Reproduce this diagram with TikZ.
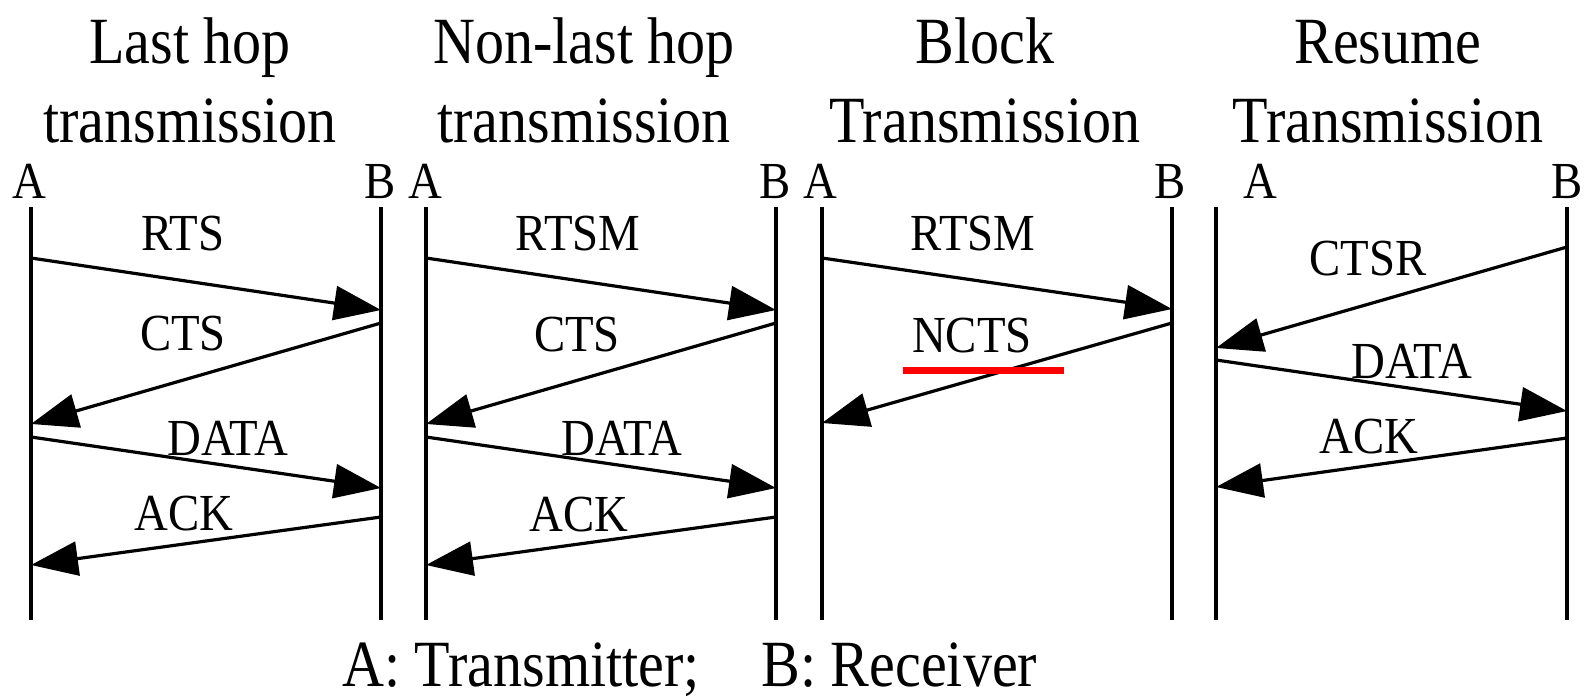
\documentclass[tikz,border=0pt]{standalone}
\usepackage{fontspec}
\setmainfont{Liberation Serif}
\usetikzlibrary{arrows.meta}
% narrow setting of the lettering
\newcommand{\nar}[1]{\scalebox{0.88}[1]{#1}}
\newcommand{\narl}[1]{\scalebox{0.9}[1]{#1}}
\tikzset{
  lifeline/.style={line width=3.2pt},
  msg/.style={line width=3.2pt, -{Triangle[length=47pt,width=34pt]}},
  lbl/.style={inner sep=0pt, anchor=base, font=\fontsize{52}{60}\selectfont},
  ttl/.style={inner sep=0pt, anchor=base, font=\fontsize{66}{78}\selectfont},
  mark red/.style={draw=red, line width=7pt},
}
\begin{document}
\begin{tikzpicture}[x=1pt,y=-1pt]
\useasboundingbox (0,0) rectangle (1590,699);

% panel titles
\node[ttl] (t1a) at (190,63)  {\nar{Last hop}};
\node[ttl] (t1b) at (190,142) {\nar{transmission}};
\node[ttl] (t2a) at (584,63)  {\nar{Non-last hop}};
\node[ttl] (t2b) at (584,142) {\nar{transmission}};
\node[ttl] (t3a) at (985,63)  {\nar{Block}};
\node[ttl] (t3b) at (985,142) {\nar{Transmission}};
\node[ttl] (t4a) at (1388,63)  {\nar{Resume}};
\node[ttl] (t4b) at (1388,142) {\nar{Transmission}};

% endpoint letters
\node[lbl] (a1) at (29,198)   {\narl{A}};
\node[lbl] (b1) at (380,198)  {\narl{B}};
\node[lbl] (a2) at (425,198)  {\narl{A}};
\node[lbl] (b2) at (775,198)  {\narl{B}};
\node[lbl] (a3) at (820,198)  {\narl{A}};
\node[lbl] (b3) at (1170,198) {\narl{B}};
\node[lbl] (a4) at (1260,198) {\narl{A}};
\node[lbl] (b4) at (1567,198) {\narl{B}};

% lifelines
\foreach \i/\xa/\xb in {1/31/381, 2/426/776, 3/822/1172, 4/1216/1567}{
  \coordinate (A\i top) at (\xa,207);
  \coordinate (A\i bot) at (\xa,620);
  \coordinate (B\i top) at (\xb,207);
  \coordinate (B\i bot) at (\xb,620);
  \draw[lifeline] (A\i top) -- (A\i bot);
  \draw[lifeline] (B\i top) -- (B\i bot);
}

% message end points on the lifelines
\foreach \i/\xa/\xb in {1/31/381, 2/426/776}{
  \coordinate (p\i m1s) at (\xa,258); \coordinate (p\i m1e) at (\xb,310);
  \coordinate (p\i m2s) at (\xb,323); \coordinate (p\i m2e) at (\xa,424);
  \coordinate (p\i m3s) at (\xa,437); \coordinate (p\i m3e) at (\xb,488);
  \coordinate (p\i m4s) at (\xb,517); \coordinate (p\i m4e) at (\xa,565);
}
\coordinate (p3m1s) at (822,258);  \coordinate (p3m1e) at (1172,309);
\coordinate (p3m2s) at (1172,323); \coordinate (p3m2e) at (822,423);
\coordinate (p4m1s) at (1567,247); \coordinate (p4m1e) at (1216,348);
\coordinate (p4m2s) at (1216,360); \coordinate (p4m2e) at (1567,411);
\coordinate (p4m3s) at (1567,438); \coordinate (p4m3e) at (1216,487);

% last hop transmission
\draw[msg] (p1m1s) -- (p1m1e);
\draw[msg] (p1m2s) -- (p1m2e);
\draw[msg] (p1m3s) -- (p1m3e);
\draw[msg] (p1m4s) -- (p1m4e);
\node[lbl] (rts1)  at (183,250) {\narl{RTS}};
\node[lbl] (cts1)  at (183,350) {\narl{CTS}};
\node[lbl] (data1) at (228,455) {\narl{DATA}};
\node[lbl] (ack1)  at (184,530) {\narl{ACK}};

% non-last hop transmission
\draw[msg] (p2m1s) -- (p2m1e);
\draw[msg] (p2m2s) -- (p2m2e);
\draw[msg] (p2m3s) -- (p2m3e);
\draw[msg] (p2m4s) -- (p2m4e);
\node[lbl] (rtsm2) at (578,250) {\narl{RTSM}};
\node[lbl] (cts2)  at (577,351) {\narl{CTS}};
\node[lbl] (data2) at (622,455) {\narl{DATA}};
\node[lbl] (ack2)  at (579,531) {\narl{ACK}};

% block transmission
\draw[msg] (p3m1s) -- (p3m1e);
\draw[msg] (p3m2s) -- (p3m2e);
\node[lbl] (rtsm3) at (973,250) {\narl{RTSM}};
\node[lbl] (ncts3) at (972,352) {\narl{NCTS}};
\coordinate (ul1) at (903,370);
\coordinate (ul2) at (1064,370);
\draw[mark red] (ul1) -- (ul2);

% resume transmission
\draw[msg] (p4m1s) -- (p4m1e);
\draw[msg] (p4m2s) -- (p4m2e);
\draw[msg] (p4m3s) -- (p4m3e);
\node[lbl] (ctsr4) at (1368,275) {\narl{CTSR}};
\node[lbl] (data4) at (1412,378) {\narl{DATA}};
\node[lbl] (ack4)  at (1369,453) {\narl{ACK}};

% legend
\node[ttl, anchor=base west] (legend) at (342,686)
  {\nar{A: Transmitter;\hspace{70pt}B: Receiver}};
\end{tikzpicture}
\end{document}
